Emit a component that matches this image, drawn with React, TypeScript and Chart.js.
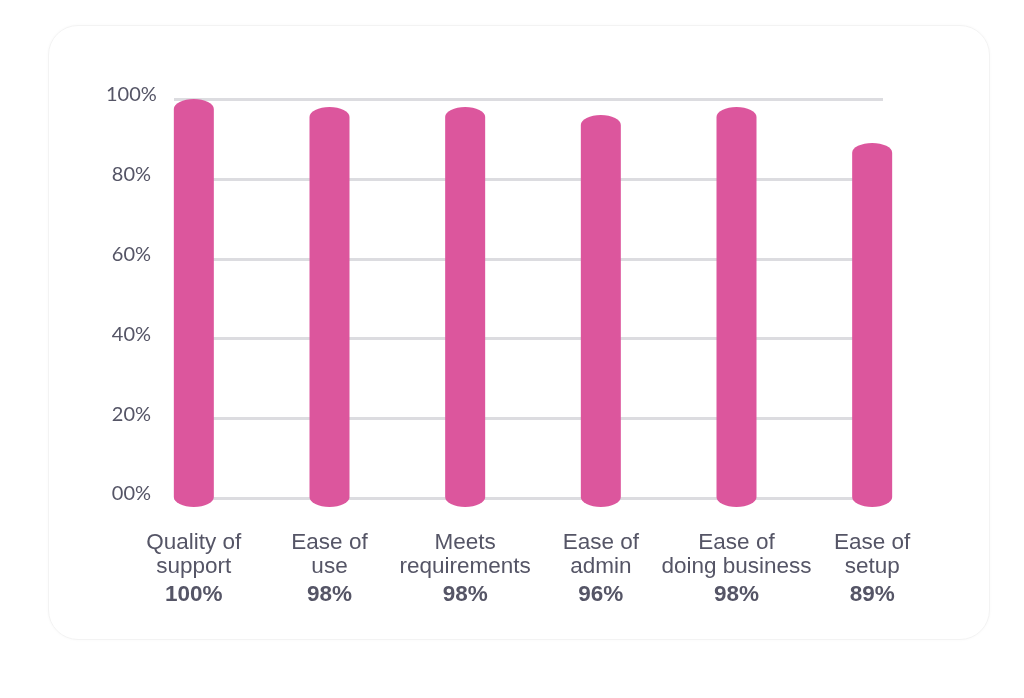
import React, { useEffect, useRef } from 'react';
import { Chart, BarController, BarElement, CategoryScale, LinearScale } from 'chart.js';

const categories = [
  ['Quality of', 'support'],
  ['Ease of', 'use'],
  ['Meets', 'requirements'],
  ['Ease of', 'admin'],
  ['Ease of', 'doing business'],
  ['Ease of', 'setup'],
];
const scores = [100, 98, 98, 96, 98, 89];
const yTicks = [0, 20, 40, 60, 80, 100];
const yTickLabels = ['00%', '20%', '40%', '60%', '80%', '100%'];

const BAR_COLOR = '#dc569d';
const TEXT_COLOR = '#555566';
const GRID_COLOR = '#dcdce0';

// bar with flat elliptical caps at both ends
class CapsuleBar extends BarElement {
  static id = 'capsuleBar';
  draw(ctx: CanvasRenderingContext2D) {
    const { x, y, base, width } = (this as any).getProps(['x', 'y', 'base', 'width']);
    const rx = width / 2;
    const ry = 10;
    ctx.save();
    ctx.fillStyle = (this as any).options.backgroundColor;
    ctx.beginPath();
    ctx.ellipse(x, y + ry, rx, ry, 0, Math.PI, 0);
    ctx.lineTo(x + rx, base - 1);
    ctx.ellipse(x, base - 1, rx, ry, 0, 0, Math.PI);
    ctx.closePath();
    ctx.fill();
    ctx.restore();
  }
}

class CapsuleBarController extends BarController {
  static id = 'capsuleBar';
  static defaults = { dataElementType: 'capsuleBar' };
}

Chart.register(BarController, BarElement, CategoryScale, LinearScale, CapsuleBar, CapsuleBarController);

const gridPlugin = {
  id: 'shortGrid',
  beforeDatasetsDraw(chart: any) {
    const { ctx, chartArea, scales } = chart;
    const y = scales.y;
    const x0 = chartArea.left + 48;
    const x1 = chartArea.right - 57;
    ctx.save();
    ctx.strokeStyle = GRID_COLOR;
    ctx.lineWidth = 3;
    y.ticks.forEach((t: any) => {
      const py = Math.round(y.getPixelForValue(t.value)) + 0.5;
      ctx.beginPath();
      ctx.moveTo(x0, py);
      ctx.lineTo(x1, py);
      ctx.stroke();
    });
    ctx.restore();
  },
};

const App: React.FC = () => {
  const canvasRef = useRef<HTMLCanvasElement>(null);
  const chartRef = useRef<Chart | null>(null);

  useEffect(() => {
    if (!canvasRef.current) return;
    if (chartRef.current) chartRef.current.destroy();

    chartRef.current = new Chart(canvasRef.current, {
      type: 'capsuleBar' as any,
      data: {
        labels: categories as any,
        datasets: [
          {
            data: scores,
            backgroundColor: BAR_COLOR,
            barThickness: 40,
            clip: false,
            xAxisID: 'x',
          },
        ],
      },
      plugins: [gridPlugin],
      options: {
        responsive: false,
        animation: false,
        layout: { padding: { left: 107, right: 84, top: 99, bottom: 80 } },
        plugins: { legend: { display: false }, tooltip: { enabled: false } },
        scales: {
          y: {
            type: 'linear',
            min: 0,
            max: 100,
            afterBuildTicks: (scale: any) => {
              scale.ticks = yTicks.map((v) => ({ value: v }));
            },
            afterFit: (scale: any) => {
              scale.width = 19;
            },
            grid: { display: false, drawTicks: false },
            border: { display: false },
            ticks: {
              mirror: true,
              crossAlign: 'center',
              labelOffset: -4,
              padding: -20,
              color: TEXT_COLOR,
              font: { family: 'Lato', size: 20 },
              callback: (v: any) => yTickLabels[yTicks.indexOf(Number(v))],
            },
          },
          x: {
            type: 'category',
            position: 'bottom',
            offset: true,
            afterFit: (scale: any) => {
              scale.height = 80;
            },
            grid: { display: false, drawTicks: false },
            border: { display: false },
            ticks: {
              padding: 33,
              maxRotation: 0,
              autoSkip: false,
              color: TEXT_COLOR,
              font: { family: 'Liberation Sans', size: 22.5, lineHeight: 24 / 22.5 },
            },
          },
          x2: {
            type: 'category',
            position: 'bottom',
            offset: true,
            labels: scores.map((s) => s + '%'),
            afterFit: (scale: any) => {
              scale.height = 40;
            },
            grid: { display: false, drawTicks: false },
            border: { display: false },
            ticks: {
              padding: 5,
              maxRotation: 0,
              autoSkip: false,
              color: TEXT_COLOR,
              font: { family: 'Liberation Sans', size: 22.5, weight: 'bold', lineHeight: 24 / 22.5 },
            },
          },
        },
      } as any,
    });

    return () => {
      if (chartRef.current) {
        chartRef.current.destroy();
        chartRef.current = null;
      }
    };
  }, []);

  return (
    <div style={{ position: 'fixed', left: 0, top: 0, width: 1024, height: 698, background: '#ffffff' }}>
      <div
        style={{
          position: 'absolute',
          left: 48,
          top: 25,
          width: 942,
          height: 615,
          borderRadius: 30,
          border: '1px solid #f3f3f3',
          boxSizing: 'border-box',
          boxShadow: '0 0 3px rgba(0,0,0,0.03)',
        }}
      />
      <canvas
        ref={canvasRef}
        width={1024}
        height={698}
        style={{ position: 'absolute', left: 0, top: 0, width: 1024, height: 698 }}
      />
    </div>
  );
};

export default App;
